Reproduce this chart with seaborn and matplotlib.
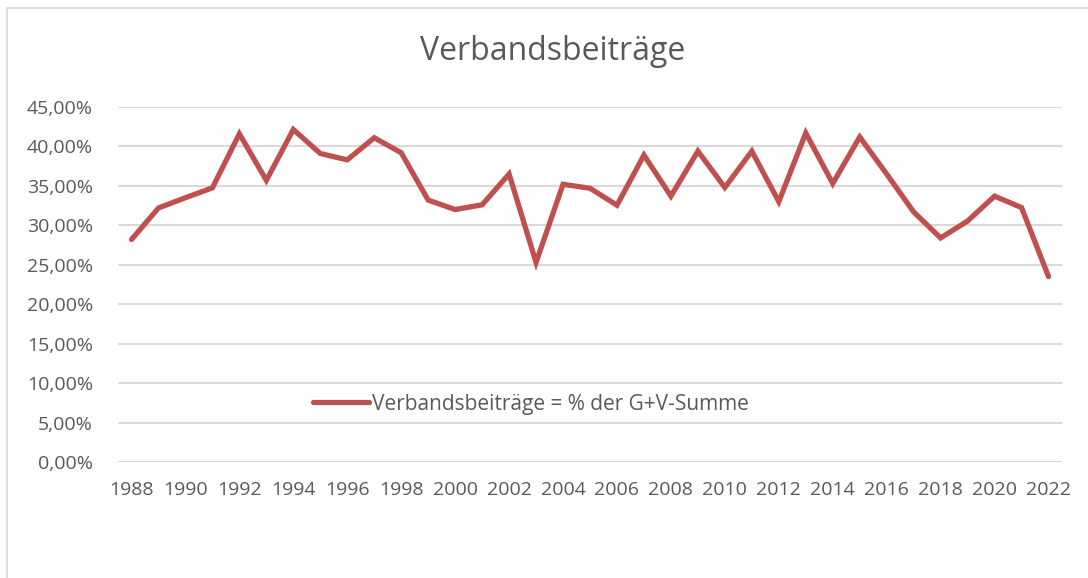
import matplotlib
matplotlib.use("Agg")
import matplotlib.pyplot as plt
from matplotlib.patches import Rectangle
from matplotlib.ticker import FuncFormatter
import pandas as pd
import seaborn as sns

years = list(range(1988, 2023))
beitraege = [
    28.2, 32.2, 33.5, 34.75, 41.6, 35.7, 42.15, 39.1, 38.3, 41.1,
    39.2, 33.2, 32.0, 32.6, 36.5, 25.3, 35.2, 34.7, 32.55, 38.9,
    33.7, 39.4, 34.8, 39.4, 33.0, 41.7, 35.3, 41.2, 36.5, 31.7,
    28.4, 30.55, 33.7, 32.25, 23.5,
]
title = "Verbandsbeiträge"
series_label = "Verbandsbeiträge = % der G+V-Summe"
xtick_years = list(range(1988, 2023, 2))
ytick_values = [0, 5, 10, 15, 20, 25, 30, 35, 40, 45]

df = pd.DataFrame({"Jahr": years, "Anteil": [v / 100 for v in beitraege]})

sns.set_style("white")
plt.rcParams["font.family"] = ["Open Sans", "DejaVu Sans"]

text_col = "#595959"
grid_col = "#D9D9D9"
line_col = "#C0504D"

fig = plt.figure(figsize=(10.88, 5.78), dpi=100)
ax = fig.add_axes([118 / 1088, 1 - 462 / 578, 944 / 1088, 355 / 578])

# chart frame
fig.patches.append(Rectangle((7 / 1088, -0.05), 1.2, 1 - 8 / 578 + 0.05,
                             transform=fig.transFigure, fill=False,
                             edgecolor=grid_col, linewidth=1.2))

sns.lineplot(data=df, x="Jahr", y="Anteil", ax=ax, color=line_col,
             linewidth=3.8, label=series_label, solid_capstyle="round",
             solid_joinstyle="miter")

ax.set_xlim(1987.5, 2022.5)
ax.set_ylim(0, 0.45)
ax.set_yticks([v / 100 for v in ytick_values])
ax.yaxis.set_major_formatter(FuncFormatter(lambda v, p: f"{v * 100:.2f}%".replace(".", ",")))
ax.set_xticks(xtick_years)
ax.set_xticklabels([str(y) for y in xtick_years])
ax.tick_params(axis="both", length=0, labelsize=14, colors=text_col)
ax.tick_params(axis="x", pad=14)
ax.tick_params(axis="y", pad=18)
ax.grid(axis="y", color=grid_col, linewidth=1.5)
ax.set_axisbelow(True)
for s in ax.spines.values():
    s.set_visible(False)
ax.set_xlabel("")
ax.set_ylabel("")

ax.legend(loc="center", bbox_to_anchor=(0.4375, 0.163), frameon=False,
          fontsize=15, labelcolor=text_col, handlelength=2.7,
          handletextpad=0.15)

fig.text(553 / 1088, 1 - 52 / 578, title, ha="center", va="center",
         fontsize=23, color=text_col)

fig.savefig("out.png", dpi=100)
